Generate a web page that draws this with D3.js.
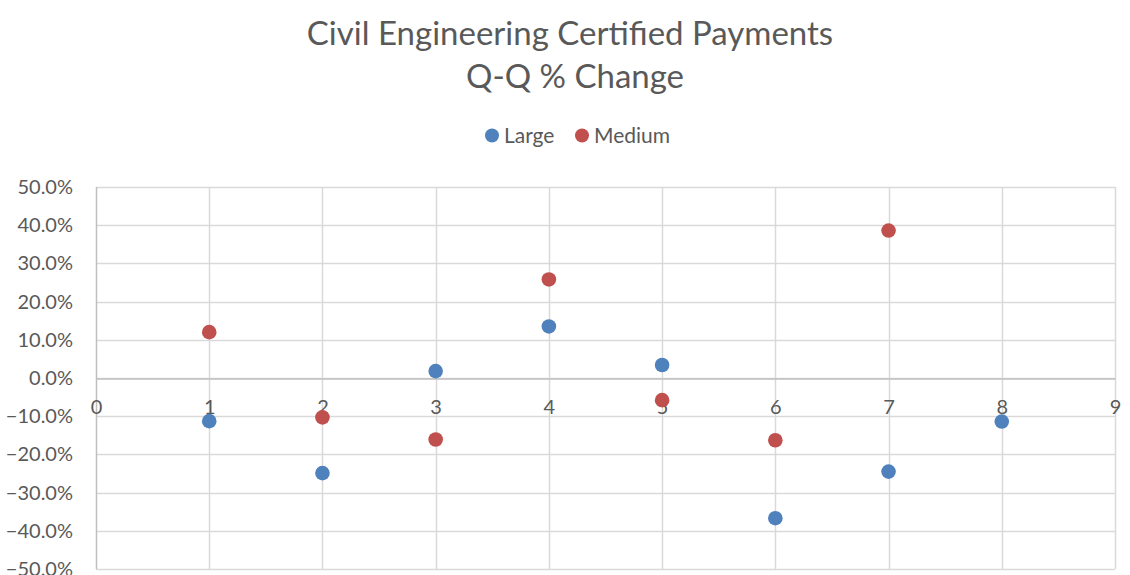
<!DOCTYPE html>
<html>
<head>
<meta charset="utf-8">
<script src="https://cdn.jsdelivr.net/npm/d3@7"></script>
<style>
  body { margin: 0; background: #fff; }
  text { font-family: Lato, "Open Sans", sans-serif; fill: #595959; }
</style>
</head>
<body>
<div id="chart"></div>
<script>
// data
var quarters = [1, 2, 3, 4, 5, 6, 7, 8];
var large = [-0.113, -0.249, 0.018, 0.135, 0.034, -0.367, -0.245, -0.114];
var medium = [0.120, -0.103, -0.161, 0.258, -0.058, -0.163, 0.386];
var xTicks = [0, 1, 2, 3, 4, 5, 6, 7, 8, 9];
var yTicks = [-0.5, -0.4, -0.3, -0.2, -0.1, 0, 0.1, 0.2, 0.3, 0.4, 0.5];
var seriesNames = ['Large', 'Medium'];
var seriesColors = ['#4f81bd', '#c0504d'];

var width = 1130, height = 575;
var plotLeft = 96, plotRight = 1115, plotTop = 187, plotBottom = 569;

var svg = d3.select('#chart').append('svg')
    .attr('width', width)
    .attr('height', height);

var x = d3.scaleLinear().domain([0, 9]).range([plotLeft, plotRight]);
var y = d3.scaleLinear().domain([-0.5, 0.5]).range([plotBottom, plotTop]);

// title
svg.append('text')
    .attr('x', 570).attr('y', 45)
    .attr('text-anchor', 'middle')
    .style('font-size', '33px')
    .text('Civil Engineering Certified Payments');
svg.append('text')
    .attr('x', 575).attr('y', 88)
    .attr('text-anchor', 'middle')
    .style('font-size', '33px')
    .text('Q-Q % Change');

// legend
var legendX = [492, 582];
for (var i = 0; i < 2; i++) {
    svg.append('circle')
        .attr('cx', legendX[i]).attr('cy', 135.5).attr('r', 7)
        .attr('fill', seriesColors[i]);
    svg.append('text')
        .attr('x', legendX[i] + 12).attr('y', 143)
        .style('font-size', '21px')
        .text(seriesNames[i]);
}

// gridlines
svg.append('g')
    .selectAll('line')
    .data(yTicks)
    .enter().append('line')
    .attr('x1', plotLeft).attr('x2', plotRight)
    .attr('y1', function (d) { return Math.round(y(d)) + 0.5; })
    .attr('y2', function (d) { return Math.round(y(d)) + 0.5; })
    .style('stroke', '#d9d9d9')
    .style('stroke-width', '1.5px');
svg.append('g')
    .selectAll('line')
    .data(xTicks)
    .enter().append('line')
    .attr('x1', function (d) { return Math.round(x(d)) + 0.5; })
    .attr('x2', function (d) { return Math.round(x(d)) + 0.5; })
    .attr('y1', plotTop).attr('y2', plotBottom)
    .style('stroke', function (d) { return d == 0 ? '#bfbfbf' : '#d9d9d9'; })
    .style('stroke-width', '1.5px');

// x axis through zero
var xAxis = svg.append('g')
    .attr('transform', 'translate(0,' + (Math.round(y(0)) + 0.5) + ')')
    .call(d3.axisBottom(x).tickValues(xTicks).tickSize(0).tickPadding(21));
xAxis.select('.domain').style('stroke', '#bfbfbf').style('stroke-width', '1.5px');
xAxis.selectAll('text')
    .style('font-size', '20px')
    .style('font-family', 'Lato, sans-serif')
    .attr('fill', '#595959');

// y axis labels
var yAxis = svg.append('g')
    .attr('transform', 'translate(' + plotLeft + ',0)')
    .call(d3.axisLeft(y).tickValues(yTicks).tickSize(0).tickPadding(23)
        .tickFormat(d3.format('.1%')));
yAxis.select('.domain').remove();
yAxis.selectAll('text')
    .style('font-size', '20px')
    .style('font-family', 'Lato, sans-serif')
    .attr('fill', '#595959');

// points
svg.append('g')
    .selectAll('circle')
    .data(large)
    .enter().append('circle')
    .attr('cx', function (d, i) { return x(quarters[i]); })
    .attr('cy', function (d) { return y(d); })
    .attr('r', 7.3)
    .attr('fill', seriesColors[0]);
svg.append('g')
    .selectAll('circle')
    .data(medium)
    .enter().append('circle')
    .attr('cx', function (d, i) { return x(quarters[i]); })
    .attr('cy', function (d) { return y(d); })
    .attr('r', 7.3)
    .attr('fill', seriesColors[1]);
</script>
</body>
</html>
